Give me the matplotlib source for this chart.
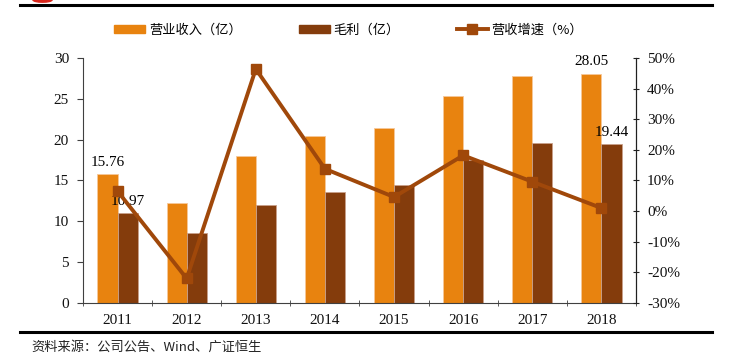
import matplotlib
matplotlib.use("Agg")
import matplotlib.pyplot as plt
import numpy as np
from matplotlib.lines import Line2D
from matplotlib.patches import Patch, Ellipse

years = ["2011", "2012", "2013", "2014", "2015", "2016", "2017", "2018"]
revenue = [15.76, 12.3, 18.0, 20.5, 21.4, 25.3, 27.8, 28.05]
gross_profit = [10.97, 8.6, 12.0, 13.6, 14.4, 17.5, 19.6, 19.44]
growth = [6.5, -22.0, 46.4, 13.8, 4.6, 18.2, 9.6, 1.0]

serif = ["Liberation Serif", "DejaVu Serif"]
cjk = ["Noto Sans CJK SC", "DejaVu Sans"]
c_rev = "#E8830F"
c_gp = "#843C0C"
c_line = "#A0480A"

fig = plt.figure(figsize=(7.33, 3.64), dpi=100)
ax = fig.add_axes([0.1132, 0.1676, 0.7545, 0.6731])
ax2 = ax.twinx()

x = np.arange(len(years))
w = 0.29
ax.bar(x - w / 2, revenue, w, color=c_rev, edgecolor="#F6C89A", linewidth=0.6, zorder=2)
ax.bar(x + w / 2, gross_profit, w, color=c_gp, edgecolor="#C9A08A", linewidth=0.6, zorder=2)
ax2.plot(x, growth, color=c_line, lw=2.8, marker="s", ms=7, zorder=3)

ax.set_xlim(-0.5, len(years) - 0.5)
ax.set_ylim(0, 30)
ax.set_yticks(range(0, 31, 5))
ax2.set_ylim(-30, 50)
ax2.set_yticks(range(-30, 51, 10))
ax2.set_yticklabels([f"{v}%" for v in range(-30, 51, 10)])

ax.set_xticks(x)
ax.set_xticklabels(years)
ax.set_xticks(np.arange(-0.5, len(years), 1), minor=True)
ax.tick_params(axis="x", which="major", length=0, pad=8)
ax.tick_params(axis="x", which="minor", length=5, direction="inout", color="#404040")
ax.tick_params(axis="y", length=4, direction="out", color="#404040", pad=6)
ax2.tick_params(axis="y", length=4, direction="inout", color="#202020", pad=6)

for a in (ax, ax2):
    a.spines["top"].set_visible(False)
    for lbl in a.get_xticklabels() + a.get_yticklabels():
        lbl.set_fontfamily(serif)
        lbl.set_fontsize(11)
        lbl.set_color("#111111")
ax.spines["left"].set_color("#404040")
ax.spines["bottom"].set_color("#404040")
ax2.spines["right"].set_color("#202020")
ax2.spines["left"].set_visible(False)
ax2.spines["bottom"].set_visible(False)

for xi, val in ((x[0] - w / 2, revenue[0]), (x[0] + w / 2, gross_profit[0]),
                (x[-1] - w / 2, revenue[-1]), (x[-1] + w / 2, gross_profit[-1])):
    ax.text(xi, val + 0.7, f"{val:.2f}", ha="center", va="bottom",
            fontfamily=serif, fontsize=11, zorder=5)
ax2.set_zorder(ax.get_zorder() + 1)
ax2.patch.set_visible(False)

handles = [Patch(color=c_rev), Patch(color=c_gp),
           Line2D([], [], color=c_line, lw=2.8, marker="s", ms=7)]
labels = ["营业收入（亿）", "毛利（亿）", "营收增速（%）"]
fig.legend(handles, labels, loc="center left", bbox_to_anchor=(0.1397, 0.9176), ncol=3,
           frameon=False, prop={"family": cjk, "size": 9.5}, columnspacing=4.3,
           handlelength=2.35, handleheight=0.55, handletextpad=0.3)

fig.add_artist(Ellipse((0.058, 1.0), 0.026, 0.012, color="#D9261C"))
fig.add_artist(Line2D([0.027, 0.972], [0.986, 0.986], color="black", lw=2.2))
fig.add_artist(Line2D([0.027, 0.972], [0.088, 0.088], color="black", lw=2.2))
fig.text(0.043, 0.047, "资料来源：公司公告、Wind、广证恒生", fontfamily=cjk, fontsize=9.5,
         va="center", ha="left", color="#222222")

fig.savefig("out.png", dpi=100)
